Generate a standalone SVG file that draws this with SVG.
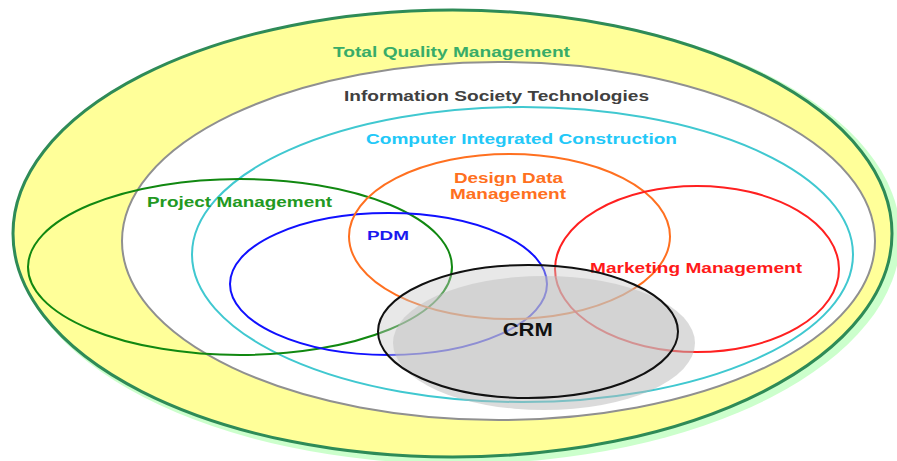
<svg xmlns="http://www.w3.org/2000/svg" width="897" height="461" viewBox="0 0 897 461">
<style>
text{font-family:"Liberation Sans",Arial,sans-serif;font-weight:bold;text-anchor:middle}
.ring{fill:none;stroke-width:2}
</style>
<rect width="897" height="461" fill="#ffffff"/>
<g id="tqm">
<ellipse cx="457.5" cy="237" rx="443" ry="227" fill="#ccffcc"/>
<ellipse cx="452.5" cy="233.5" rx="439.5" ry="223.5" fill="#ffff99" stroke="#2e8b57" stroke-width="3"/>
<text x="451.5" y="57" font-size="15.5" fill="#38ac68" textLength="237" lengthAdjust="spacingAndGlyphs">Total Quality Management</text>
</g>
<g id="ist">
<ellipse cx="498.5" cy="241" rx="376.5" ry="179" fill="#ffffff" stroke="#909090" stroke-width="2"/>
<text x="496.5" y="101" font-size="14.5" fill="#404040" textLength="305" lengthAdjust="spacingAndGlyphs">Information Society Technologies</text>
</g>
<g id="cic">
<ellipse class="ring" cx="522.5" cy="254.5" rx="330.5" ry="147.5" stroke="#40c8d0"/>
<text x="521.5" y="144" font-size="15" fill="#22c8f8" textLength="311" lengthAdjust="spacingAndGlyphs">Computer Integrated Construction</text>
</g>
<g id="pm">
<ellipse class="ring" cx="240" cy="267" rx="212" ry="88" stroke="#118811"/>
<text x="239.5" y="207" font-size="14.8" fill="#229922" textLength="185" lengthAdjust="spacingAndGlyphs">Project Management</text>
</g>
<g id="pdm">
<ellipse class="ring" cx="388.5" cy="284" rx="158.5" ry="71" stroke="#1010ff"/>
<text x="388" y="240" font-size="13.5" fill="#1a1aee" textLength="42" lengthAdjust="spacingAndGlyphs">PDM</text>
</g>
<g id="ddm">
<ellipse class="ring" cx="509.5" cy="236.5" rx="160.5" ry="82.5" stroke="#ff7020"/>
<text x="508.5" y="183" font-size="14" fill="#ff7020" textLength="109" lengthAdjust="spacingAndGlyphs">Design Data</text>
<text x="508" y="199" font-size="14" fill="#ff7020" textLength="116" lengthAdjust="spacingAndGlyphs">Management</text>
</g>
<g id="mm">
<ellipse class="ring" cx="697" cy="269" rx="142" ry="83" stroke="#ff2020"/>
<text x="696" y="273" font-size="15" fill="#ff1a1a" textLength="212" lengthAdjust="spacingAndGlyphs">Marketing Management</text>
</g>
<g id="crm">
<ellipse cx="544" cy="343" rx="151" ry="67" fill="#b8b8b8" fill-opacity="0.5"/>
<ellipse cx="528" cy="331.5" rx="150" ry="66.5" fill="#c8c8c8" fill-opacity="0.42" stroke="#111111" stroke-width="2"/>
<text x="527.7" y="336" font-size="17.5" fill="#111111" textLength="50" lengthAdjust="spacingAndGlyphs">CRM</text>
</g>
</svg>
